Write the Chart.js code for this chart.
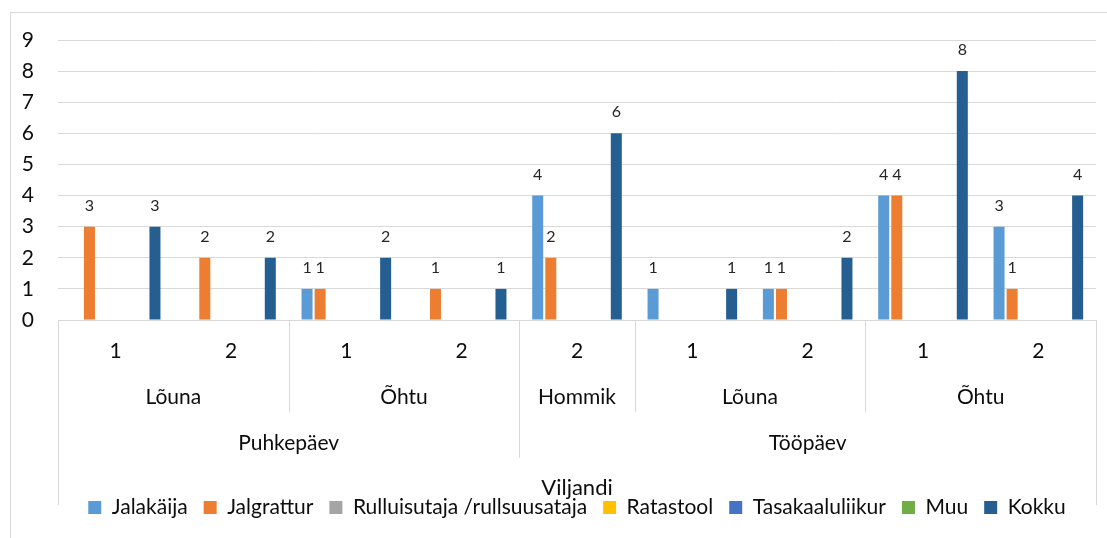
<!DOCTYPE html>
<html>
<head>
<meta charset="utf-8">
<title>Viljandi</title>
<script src="https://cdn.jsdelivr.net/npm/chart.js@4.4.1/dist/chart.umd.min.js"></script>
<style>
  html, body { margin: 0; padding: 0; background: #fff; }
  canvas { display: block; }
</style>
</head>
<body>
<canvas id="myChart" width="1107" height="538"></canvas>
<script>
// category hierarchy (leaf -> period -> day type)
const leafLabels = ['1', '2', '1', '2', '2', '1', '2', '1', '2'];
const periodLabels = ['Lõuna', 'Õhtu', 'Hommik', 'Lõuna', 'Õhtu'];
const periodSpans = [2, 2, 1, 2, 2];
const dayLabels = ['Puhkepäev', 'Tööpäev'];
const daySpans = [4, 5];
const xTitle = 'Viljandi';

const seriesNames = ['Jalakäija', 'Jalgrattur', 'Rulluisutaja /rullsuusataja', 'Ratastool', 'Tasakaaluliikur', 'Muu', 'Kokku'];
const seriesColors = ['#5B9BD5', '#ED7D31', '#A5A5A5', '#FFC000', '#4472C4', '#70AD47', '#255E91'];

const jalakaija = [null, null, 1, null, 4, 1, 1, 4, 3];
const jalgrattur = [3, 2, 1, 1, 2, null, 1, 4, 1];
const rulluisutaja = [null, null, null, null, null, null, null, null, null];
const ratastool = [null, null, null, null, null, null, null, null, null];
const tasakaaluliikur = [null, null, null, null, null, null, null, null, null];
const muu = [null, null, null, null, null, null, null, null, null];
const kokku = [3, 2, 2, 1, 6, 1, 2, 8, 4];

const yMin = 0;
const yMax = 9;

const seriesData = [jalakaija, jalgrattur, rulluisutaja, ratastool, tasakaaluliikur, muu, kokku];

const FONT = 'Lato';
const TEXT = '#0d0d0d';
const LINE = '#d9d9d9';

Chart.defaults.font.family = FONT;
Chart.defaults.color = TEXT;

const crisp = (v) => Math.round(v) + 0.5;

// outer chart frame
const framePlugin = {
  id: 'frame',
  beforeDraw(chart) {
    const { ctx } = chart;
    ctx.save();
    ctx.strokeStyle = LINE;
    ctx.lineWidth = 1;
    ctx.strokeRect(10.5, 12.5, 1200, 600);
    ctx.restore();
  },
};

// multi level category labels under the x axis
const categoryAxisPlugin = {
  id: 'categoryAxis',
  afterDraw(chart) {
    const { ctx, chartArea } = chart;
    const x = chart.scales.x;
    const half = (x.getPixelForValue(1) - x.getPixelForValue(0)) / 2;
    const edge = (i) => x.getPixelForValue(i) - half;
    const top = chartArea.bottom;

    const vline = (px, len) => {
      ctx.beginPath();
      ctx.moveTo(crisp(px), top);
      ctx.lineTo(crisp(px), top + len);
      ctx.stroke();
    };

    ctx.save();
    ctx.strokeStyle = LINE;
    ctx.lineWidth = 1;
    ctx.fillStyle = TEXT;
    ctx.textAlign = 'center';
    ctx.textBaseline = 'middle';
    ctx.font = `21px ${FONT}`;

    leafLabels.forEach((label, i) => {
      ctx.fillText(label, x.getPixelForValue(i), top + 31);
    });

    let start = 0;
    periodSpans.forEach((span, i) => {
      const mid = (edge(start) + edge(start + span)) / 2;
      ctx.fillText(periodLabels[i], mid, top + 77);
      if (start > 0) vline(edge(start), 92);
      start += span;
    });

    start = 0;
    daySpans.forEach((span, i) => {
      const mid = (edge(start) + edge(start + span)) / 2;
      ctx.fillText(dayLabels[i], mid, top + 123);
      if (start > 0) vline(edge(start), 138);
      start += span;
    });

    vline(edge(0), 185);
    vline(edge(leafLabels.length), 185);

    ctx.font = `22px ${FONT}`;
    ctx.fillText(xTitle, (edge(0) + edge(leafLabels.length)) / 2, top + 168);
    ctx.restore();
  },
};

// value labels above bars
const barLabelPlugin = {
  id: 'barLabels',
  afterDatasetsDraw(chart) {
    const { ctx } = chart;
    ctx.save();
    ctx.fillStyle = '#262626';
    ctx.font = `16px ${FONT}`;
    ctx.textAlign = 'center';
    ctx.textBaseline = 'middle';
    chart.data.datasets.forEach((ds, di) => {
      const meta = chart.getDatasetMeta(di);
      meta.data.forEach((bar, i) => {
        const v = ds.data[i];
        if (v === null || v === undefined) return;
        ctx.fillText(String(v), bar.x, bar.y - 21);
      });
    });
    ctx.restore();
  },
};

const datasets = seriesNames.map((name, i) => ({
  label: name,
  data: seriesData[i],
  backgroundColor: seriesColors[i],
  borderWidth: 0,
  categoryPercentage: 0.795,
  barPercentage: 0.84,
}));

const myChart = new Chart(document.getElementById('myChart'), {
  type: 'bar',
  data: { labels: leafLabels, datasets },
  options: {
    responsive: false,
    animation: false,
    layout: { padding: { top: 40, right: 11, left: 0, bottom: 10 } },
    plugins: {
      tooltip: { enabled: false },
      title: { display: false },
      legend: {
        position: 'bottom',
        fullSize: false,
        labels: {
          boxWidth: 13,
          boxHeight: 13,
          padding: 16,
          color: TEXT,
          font: { size: 21, family: FONT },
        },
      },
    },
    scales: {
      x: {
        grid: { display: false },
        border: { display: true, color: LINE },
        ticks: { display: false },
        afterFit: (scale) => { scale.height = 161; },
      },
      y: {
        min: yMin,
        max: yMax,
        grid: { color: LINE, drawTicks: false },
        border: { display: false },
        ticks: {
          stepSize: 1,
          padding: 24,
          color: TEXT,
          font: { size: 21, family: FONT },
        },
        afterFit: (scale) => { scale.width = 58; },
      },
    },
  },
  plugins: [framePlugin, categoryAxisPlugin, barLabelPlugin],
});
</script>
</body>
</html>
